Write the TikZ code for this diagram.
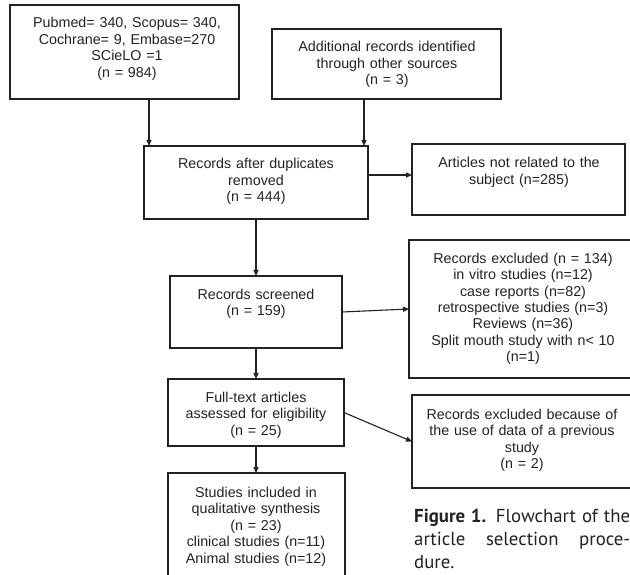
\documentclass[tikz,border=0pt]{standalone}
\usepackage{fontspec}
\setmainfont{Liberation Sans}
\newfontfamily\capfont{PT Sans}
\usetikzlibrary{arrows.meta,calc}
\definecolor{ink}{HTML}{222222}
\tikzset{
  box/.style={draw=ink, line width=1.1pt, rectangle, inner sep=0pt, outer sep=0pt, anchor=north west},
  txt/.style={text=ink, align=center, text width=240pt, inner sep=0pt, anchor=base,
    font=\fontsize{14.3}{16.5}\selectfont},
  arr/.style={draw=ink, line width=1.1pt, -{Triangle[length=6pt,width=5pt]}},
}
\begin{document}
\begin{tikzpicture}[x=1pt,y=-1pt]
\useasboundingbox (0,0) rectangle (630,575);
\clip (0,0) rectangle (630,575);
% boxes
\node[box, minimum width=229pt, minimum height=94pt] (src1) at (10,5) {};
\node[box, minimum width=229pt, minimum height=70pt] (src2) at (272,29) {};
\node[box, minimum width=224pt, minimum height=73pt] (dup) at (144,146) {};
\node[box, minimum width=213pt, minimum height=71pt] (notrel) at (412,144) {};
\node[box, minimum width=172pt, minimum height=72pt] (screen) at (170,276) {};
\node[box, minimum width=241pt, minimum height=138pt] (excl1) at (409,240) {};
\node[box, minimum width=176pt, minimum height=67pt] (full) at (168,379) {};
\node[box, minimum width=238pt, minimum height=93pt] (excl2) at (412,395) {};
\node[box, minimum width=177pt, minimum height=120pt] (incl) at (168,473) {};
% texts
\node[txt] (t1) at (127,28) {Pubmed= 340, Scopus= 340,\\ Cochrane= 9, Embase=270\\ SCieLO =1\\ (n = 984)};
\node[txt] (t2) at (387,52) {Additional records identified\\ through other sources\\ (n = 3)};
\node[txt] (t3) at (256,169) {Records after duplicates\\ removed\\ (n = 444)};
\node[txt] (t4) at (519,168) {Articles not related to the\\ subject (n=285)};
\node[txt] (t5) at (256,299) {Records screened\\ (n = 159)};
\node[txt] (t6) at (523,263) {Records excluded (n = 134)\\ in vitro studies (n=12)\\ case reports (n=82)\\ retrospective studies (n=3)\\ Reviews (n=36)\\ Split mouth study with n< 10\\ (n=1)};
\node[txt] (t7) at (256,402) {Full-text articles\\ assessed for eligibility\\ (n = 25)};
\node[txt] (t8) at (522,419) {Records excluded because of\\ the use of data of a previous\\ study\\ (n = 2)};
\node[txt] (t9) at (256,497) {Studies included in\\ qualitative synthesis\\ (n = 23)\\ clinical studies (n=11)\\ Animal studies (n=12)};
% caption
\node[anchor=base west, inner sep=0pt, text width=216pt, align=justify, text=ink,
  font=\capfont\fontsize{18.8}{23}\selectfont] (cap) at (414,522)
  {{\bfseries Figure 1.} Flowchart of the\linebreak article selection proce-\linebreak dure.};
% connectors
\draw[arr] ([xshift=5pt]dup.north west |- src1.south) -- ([xshift=5pt]dup.north west);
\draw[arr] ([xshift=-4pt]dup.north east |- src2.south) -- ([xshift=-4pt]dup.north east);
\coordinate (a3) at ([yshift=4.5pt]notrel.west);
\draw[arr] (a3 -| dup.east) -- (a3);
\draw[arr] (dup.south) -- (screen.north);
\draw[arr] (screen.east) -- (excl1.west);
\draw[arr] (screen.south) -- (full.north);
\draw[arr] (full.east) -- (excl2.west);
\draw[arr] (full.south) -- (full.south |- incl.north);
\end{tikzpicture}
\end{document}
